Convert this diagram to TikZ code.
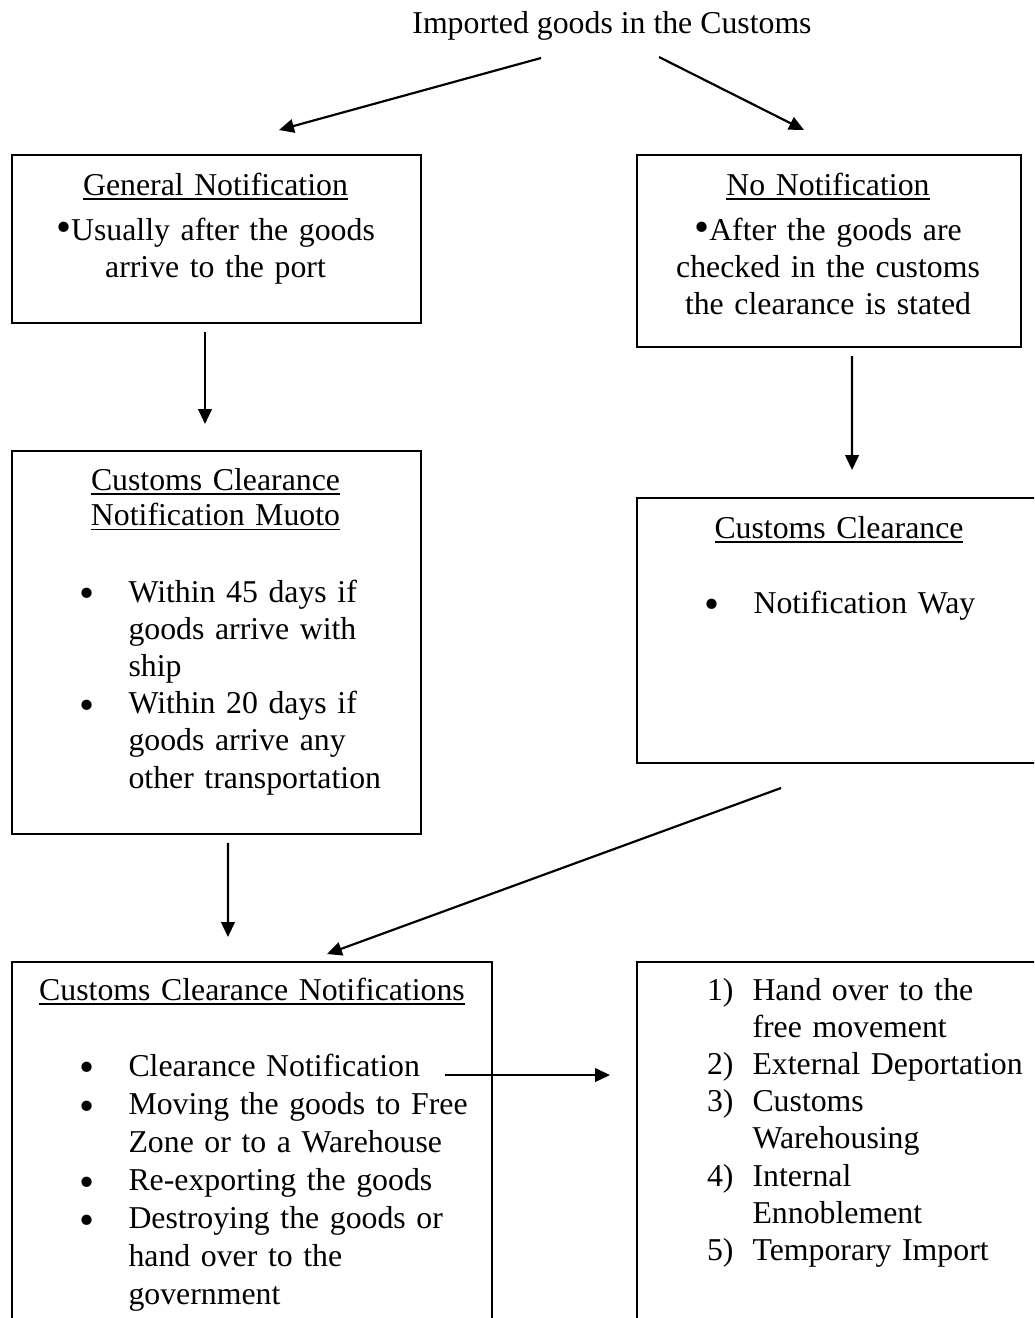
\documentclass[tikz,border=0pt]{standalone}
\usepackage{fontspec}
\setmainfont{Liberation Serif}
\usetikzlibrary{calc,arrows.meta}

\newcommand{\bigb}{\scalebox{1.35}{\textbullet}}
\newcommand{\itm}{\leavevmode\llap{\raisebox{-2.2pt}{\bigb}\hspace{12.5pt}}}
\newcommand{\nitm}[1]{\leavevmode\llap{#1\hspace{7pt}}}
\newcommand{\dotb}{\raisebox{-0.4pt}{\bigb}}
\newcommand{\uln}[1]{\leavevmode\setbox0\hbox{#1}\rlap{\rule[-1.8pt]{\wd0}{0.6pt}}\box0}

\tikzset{
    box/.style={draw,line width=0.75pt,inner sep=0,anchor=north west},
    txt/.style={inner sep=0,anchor=base,text width=170pt,align=center},
    lst/.style={inner sep=0,anchor=base west,text width=140pt,align=left},
    arr/.style={-{Triangle[length=5.5pt,width=5pt]},line width=0.8pt}
}

\begin{document}
\begin{tikzpicture}[x=0.368pt,y=-0.368pt,font=\fontsize{11.7}{13.7}\selectfont]
        \clip (0,0) rectangle (1034,1318);

        \node[inner sep=0,anchor=base] (imp) at (612,33) {Imported goods in the Customs};

        % Boxes
        \node[box,minimum width=150.5pt,minimum height=61.8pt] (gn) at (11,154) {};
        \node[box,minimum width=141.3pt,minimum height=70.7pt] (nn) at (636,154) {};
        \node[box,minimum width=150.5pt,minimum height=140.9pt] (ccnm) at (11,450) {};
        \node[box,minimum width=148.7pt,minimum height=97.5pt] (cc) at (636,497) {};
        \node[box,minimum width=176.6pt,minimum height=135.8pt] (ccn) at (11,961) {};
        \node[box,minimum width=148.7pt,minimum height=135.8pt] (rt) at (636,961) {};

        % Texts
        \node[txt] (gnt) at (215.5,195) {\uln{General Notification}};
        \node[txt] (gnb) at (215.5,240) {\dotb Usually after the goods\\arrive to the port};

        \node[txt] (nnt) at (828,195) {\uln{No Notification}};
        \node[txt] (nnb) at (828,240) {\dotb After the goods are\\checked in the customs\\the clearance is stated};

        \node[txt,font=\fontsize{11.7}{13}\selectfont] (ccnmt) at (215.5,490) {\uln{Customs Clearance}\\\uln{Notification Muoto}};
        \node[lst] (ccnml) at (128,602) {\itm Within 45 days if\\goods arrive with\\ship\\
            \itm Within 20 days if\\goods arrive any\\other transportation};

        \node[txt] (cct) at (839,538) {\uln{Customs Clearance}};
        \node[lst] (ccl) at (753,613) {\itm Notification Way};

        \node[txt] (ccnt) at (252,1000) {\uln{Customs Clearance Notifications}};
        \node[lst,font=\fontsize{11.7}{14}\selectfont] (ccnl) at (128,1076) {\itm Clearance Notification\\
            \itm Moving the goods to Free\\Zone or to a Warehouse\\
            \itm Re-exporting the goods\\
            \itm Destroying the goods or\\hand over to the\\government};

        \node[lst] (rtl) at (752,1000) {\nitm{1)}Hand over to the\\free movement\\
            \nitm{2)}External Deportation\\
            \nitm{3)}Customs\\Warehousing\\
            \nitm{4)}Internal\\Ennoblement\\
            \nitm{5)}Temporary Import};

        % Arrows
        \draw[arr] ($(imp.base)+(-71,25)$) -- ($(gn.north)+(62.5,-24)$);
        \draw[arr] ($(imp.base)+(47,24)$) -- ($(nn.north)+(-25,-24)$);
        \draw[arr] ($(gn.south)+(-11.5,8)$) -- ($(ccnm.north)+(-11.5,-26)$);
        \draw[arr] ($(nn.south)+(23,8)$) -- ($(cc.north)+(13,-27)$);
        \draw[arr] ($(ccnm.south)+(11.5,8)$) -- ($(ccn.north)+(-24,-24)$);
        \draw[arr] ($(cc.south)+(-58,24)$) -- ($(ccn.north)+(75,-7)$);
        \draw[arr] ($(ccn.east)+(-48,-71.5)$) -- ($(rt.west)+(-26,-71.5)$);
    \end{tikzpicture}
\end{document}
